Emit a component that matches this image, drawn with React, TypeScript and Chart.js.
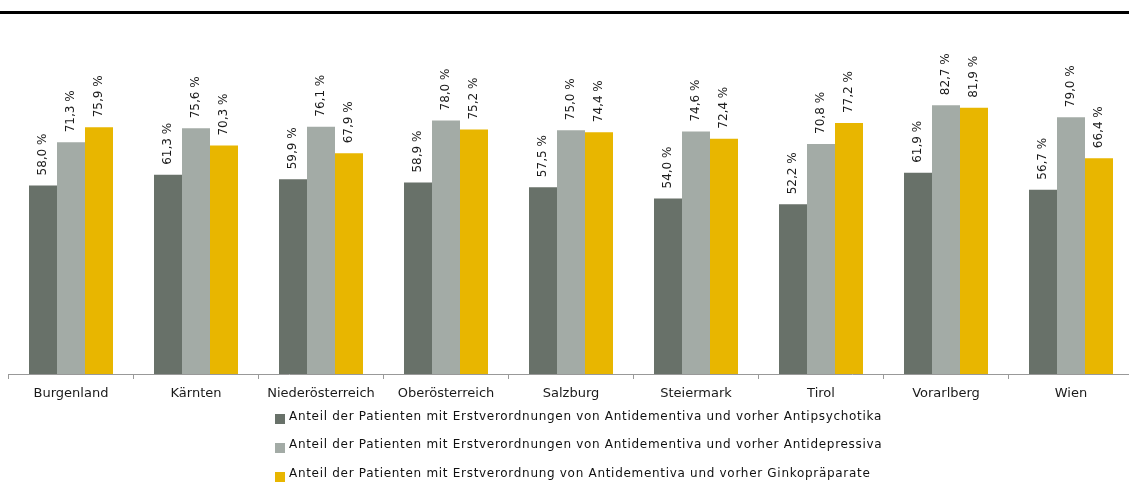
import React, { useEffect, useRef } from "react";
import { Chart, registerables } from "chart.js";

Chart.register(...registerables);

const categories = [
  "Burgenland",
  "Kärnten",
  "Niederösterreich",
  "Oberösterreich",
  "Salzburg",
  "Steiermark",
  "Tirol",
  "Vorarlberg",
  "Wien",
];
const antipsychotika = [58.0, 61.3, 59.9, 58.9, 57.5, 54.0, 52.2, 61.9, 56.7];
const antidepressiva = [71.3, 75.6, 76.1, 78.0, 75.0, 74.6, 70.8, 82.7, 79.0];
const ginko = [75.9, 70.3, 67.9, 75.2, 74.4, 72.4, 77.2, 81.9, 66.4];
const seriesLabels = [
  "Anteil der Patienten mit Erstverordnungen von Antidementiva und vorher Antipsychotika",
  "Anteil der Patienten mit Erstverordnungen von Antidementiva und vorher Antidepressiva",
  "Anteil der Patienten mit Erstverordnung von Antidementiva und vorher Ginkopräparate",
];
const colors = ["#687169", "#a3aba6", "#e8b600"];

const W = 1140;
const H = 497;
const FONT = "'DejaVu Sans', sans-serif";

export default function App() {
  const ref = useRef<HTMLCanvasElement | null>(null);
  useEffect(() => {
    if (!ref.current) return;
    const topLine = {
      id: "topLine",
      beforeDraw(chart: any) {
        const ctx = chart.ctx;
        ctx.save();
        ctx.fillStyle = "#fff";
        ctx.fillRect(0, 0, chart.width, chart.height);
        ctx.fillStyle = "#000";
        ctx.fillRect(0, 11, chart.width, 3);
        ctx.restore();
      },
    };
    const valueLabels = {
      id: "valueLabels",
      afterDatasetsDraw(chart: any) {
        const ctx = chart.ctx;
        ctx.save();
        ctx.font = `12px ${FONT}`;
        ctx.fillStyle = "#1a1a1a";
        ctx.textAlign = "left";
        ctx.textBaseline = "middle";
        chart.data.datasets.forEach((ds: any, di: number) => {
          const meta = chart.getDatasetMeta(di);
          meta.data.forEach((el: any, i: number) => {
            const v = ds.data[i] as number;
            const txt = v.toFixed(1).replace(".", ",") + " %";
            ctx.save();
            ctx.translate(el.x, el.y - 10);
            ctx.rotate(-Math.PI / 2);
            ctx.fillText(txt, 0, 0);
            ctx.restore();
          });
        });
        ctx.restore();
      },
    };
    const customLegend = {
      id: "customLegend",
      afterDraw(chart: any) {
        const ctx = chart.ctx;
        ctx.save();
        ctx.font = `12px ${FONT}`;
        try {
          (ctx as any).letterSpacing = "0.7px";
        } catch (e) {}
        ctx.textAlign = "left";
        ctx.textBaseline = "alphabetic";
        const boxTops = [414, 443, 472];
        const baselines = [419.5, 448, 476.5];
        seriesLabels.forEach((lab, i) => {
          ctx.fillStyle = colors[i];
          ctx.fillRect(275, boxTops[i], 10, 10);
          ctx.fillStyle = "#111";
          ctx.fillText(lab, 289, baselines[i]);
        });
        ctx.restore();
      },
    };
    const chart = new Chart(ref.current, {
      type: "bar",
      data: {
        labels: categories,
        datasets: [
          { label: seriesLabels[0], data: antipsychotika, backgroundColor: colors[0] },
          { label: seriesLabels[1], data: antidepressiva, backgroundColor: colors[1] },
          { label: seriesLabels[2], data: ginko, backgroundColor: colors[2] },
        ],
      },
      options: {
        animation: false,
        responsive: false,
        maintainAspectRatio: false,
        devicePixelRatio: 1,
        layout: { padding: { left: 8.5, right: 6.5, top: 49, bottom: 0 } },
        datasets: {
          bar: { categoryPercentage: 0.672, barPercentage: 1.0, borderWidth: 0 },
        },
        plugins: {
          legend: { display: false },
          tooltip: { enabled: false },
        },
        scales: {
          x: {
            afterFit: (scale: any) => {
              scale.height = H - 374;
            },
            border: { display: true, color: "#999", width: 1 },
            grid: {
              display: true,
              offset: true,
              drawOnChartArea: false,
              drawTicks: true,
              tickLength: 5,
              color: "#999",
            },
            ticks: {
              color: "#1a1a1a",
              font: { family: FONT, size: 13 },
              padding: 7,
              maxRotation: 0,
              autoSkip: false,
            },
          },
          y: {
            display: false,
            min: 0,
            max: 100,
          },
        },
      },
      plugins: [topLine, valueLabels, customLegend],
    });
    return () => chart.destroy();
  }, []);
  return (
    <div
      style={{
        position: "fixed",
        left: 0,
        top: 0,
        width: 1129,
        height: H,
        overflow: "hidden",
        background: "#fff",
      }}
    >
      <canvas ref={ref} width={W} height={H} style={{ width: W, height: H, display: "block" }} />
    </div>
  );
}
